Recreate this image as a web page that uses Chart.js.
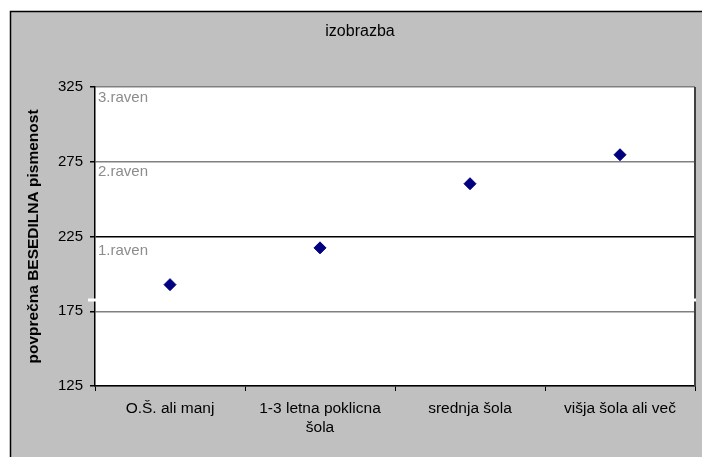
<!DOCTYPE html>
<html>
<head>
<meta charset="utf-8">
<script src="https://cdn.jsdelivr.net/npm/chart.js@4/dist/chart.umd.min.js"></script>
<style>
  html, body { margin: 0; padding: 0; background: #fff; }
  #wrap { width: 702px; height: 457px; }
</style>
</head>
<body>
<div id="wrap"><canvas id="chart" width="702" height="457"></canvas></div>
<script>
// Data
const categories = ['O.Š. ali manj', ['1-3 letna poklicna', 'šola'], 'srednja šola', 'višja šola ali več'];
const scores = [192.8, 217.4, 260.3, 279.7];
const yTicks = [125, 175, 225, 275, 325];
const levelNames = ['1.raven', '2.raven', '3.raven'];
const levelLabelAt = [215.5, 268, 318];
const whiteMarkAt = [182.5];

const FONT = '"Liberation Sans", Arial, sans-serif';

// Gray frame, white plot area, title, level labels
const decor = {
    id: 'decor',
    beforeDraw(chart) {
        const c = chart.ctx;
        const a = chart.chartArea;
        c.save();
        c.fillStyle = '#ffffff';
        c.fillRect(0, 0, chart.width, chart.height);
        c.fillStyle = '#c0c0c0';
        c.fillRect(10, 11, chart.width - 10, chart.height - 11);
        c.strokeStyle = '#000';
        c.lineWidth = 1.5;
        c.beginPath();
        c.moveTo(10.5, chart.height);
        c.lineTo(10.5, 11.5);
        c.lineTo(chart.width, 11.5);
        c.stroke();
        c.fillStyle = '#ffffff';
        c.fillRect(a.left, a.top, a.right - a.left, a.bottom - a.top);

        c.fillStyle = '#000';
        c.font = '16px ' + FONT;
        c.textAlign = 'center';
        c.textBaseline = 'middle';
        c.fillText('izobrazba', 360, 32);
        c.restore();
    },
    afterDraw(chart) {
        const c = chart.ctx;
        const a = chart.chartArea;
        const y = chart.scales.y;
        c.save();
        // right border of plot
        c.strokeStyle = '#404040';
        c.lineWidth = 2;
        c.beginPath();
        c.moveTo(a.right, a.top);
        c.lineTo(a.right, a.bottom);
        c.stroke();

        c.fillStyle = '#8c8c8c';
        c.font = '15px ' + FONT;
        c.textAlign = 'left';
        c.textBaseline = 'middle';
        levelNames.forEach((name, i) => {
            c.fillText(name, a.left + 3, y.getPixelForValue(levelLabelAt[i]));
        });

        c.strokeStyle = '#ffffff';
        c.lineWidth = 3;
        whiteMarkAt.forEach(v => {
            const py = Math.round(y.getPixelForValue(v));
            c.beginPath();
            c.moveTo(a.left - 7, py);
            c.lineTo(a.left + 1, py);
            c.moveTo(a.right - 4, py);
            c.lineTo(a.right + 1, py);
            c.stroke();
        });
        c.restore();
    }
};

new Chart(document.getElementById('chart'), {
    type: 'line',
    data: {
        labels: categories,
        datasets: [{
            data: scores,
            showLine: false,
            pointStyle: 'rectRot',
            pointRadius: 6,
            pointHoverRadius: 6,
            pointBackgroundColor: '#000080',
            pointBorderColor: '#000080',
            pointBorderWidth: 1
        }]
    },
    options: {
        responsive: false,
        animation: false,
        events: [],
        layout: { padding: { top: 87, right: 5, left: 0, bottom: 0 } },
        plugins: {
            legend: { display: false },
            tooltip: { enabled: false }
        },
        scales: {
            x: {
                offset: true,
                afterFit(scale) { scale.height = 71; },
                grid: {
                    offset: true,
                    drawOnChartArea: false,
                    tickLength: 5,
                    tickColor: '#000'
                },
                border: { color: '#000', width: 1.5 },
                ticks: {
                    color: '#000',
                    padding: 8,
                    maxRotation: 0,
                    autoSkip: false,
                    font: { family: FONT, size: 15.5, lineHeight: 1.23 }
                }
            },
            y: {
                min: yTicks[0],
                max: yTicks[yTicks.length - 1],
                afterFit(scale) { scale.width = 95; },
                afterBuildTicks(scale) { scale.ticks = yTicks.map(v => ({ value: v })); },
                grid: {
                    color: ctx => (ctx.tick && ctx.tick.value === 225 ? '#000' : '#808080'),
                    lineWidth: 1.5,
                    tickLength: 5,
                    tickColor: '#000'
                },
                border: { color: '#000', width: 1.5 },
                ticks: {
                    color: '#000',
                    padding: 7,
                    font: { family: FONT, size: 15 }
                },
                title: {
                    display: true,
                    text: 'povprečna BESEDILNA pismenost',
                    color: '#000',
                    padding: { top: 24, bottom: 0 },
                    font: { family: FONT, size: 15.5, weight: 'bold', lineHeight: 1.2 }
                }
            }
        }
    },
    plugins: [decor]
});
</script>
</body>
</html>
